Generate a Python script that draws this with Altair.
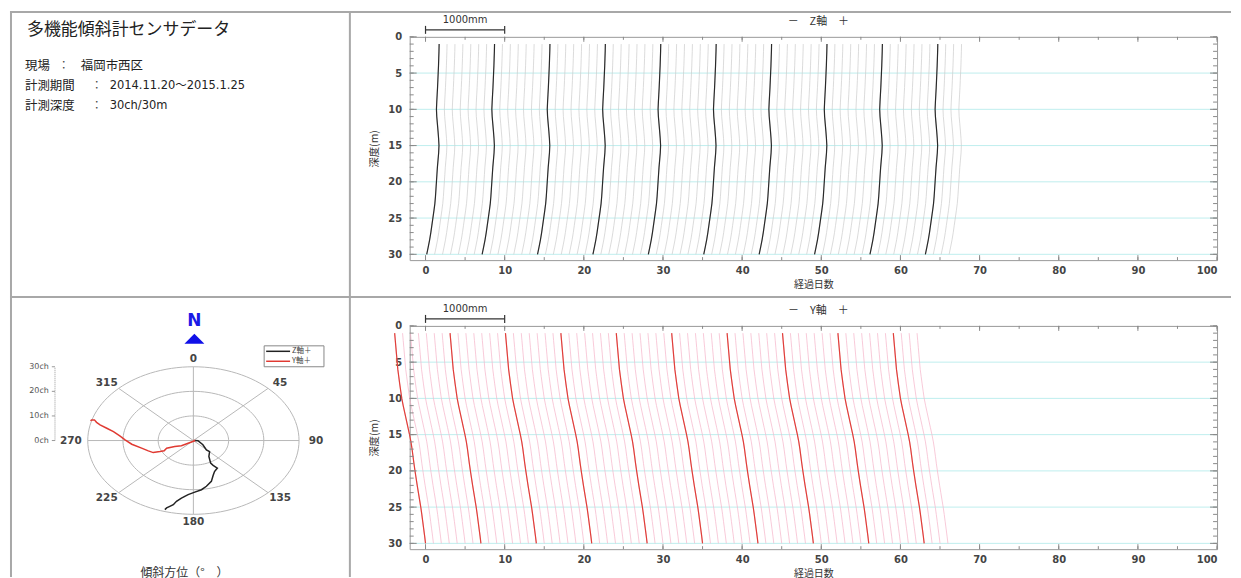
import altair as alt
import numpy as np
import pandas as pd

# ---------------- data ----------------
DEPTHS = list(range(1, 31))
Z_PROFILE = [1.72, 1.70, 1.67, 1.64, 1.60, 1.56, 1.52, 1.47, 1.42, 1.38,
             1.42, 1.50, 1.58, 1.65, 1.70, 1.66, 1.58, 1.50, 1.44, 1.38,
             1.32, 1.26, 1.18, 1.06, 0.93, 0.80, 0.67, 0.52, 0.34, 0.15]
Y_PROFILE = [-3.90, -3.82, -3.74, -3.66, -3.58, -3.50, -3.38, -3.26, -3.13, -3.00,
             -2.82, -2.62, -2.42, -2.22, -2.02, -1.84, -1.70, -1.58, -1.46, -1.33,
             -1.19, -1.05, -0.90, -0.75, -0.60, -0.47, -0.35, -0.23, -0.11, 0.00]
DAYS = list(range(0, 67))
WEEK_DAYS = [0, 7, 14, 21, 28, 35, 42, 49, 56, 63]
X_TICKS = [0, 10, 20, 30, 40, 50, 60, 70, 80, 90, 100]
X_MINOR = [0, 5, 10, 15, 20, 25, 30, 35, 40, 45, 50, 55, 60, 65, 70, 75, 80, 85, 90, 95, 100]
Y_TICKS = [0, 5, 10, 15, 20, 25, 30]
Y_MINOR = list(range(0, 31))
GRID_DEPTHS = [5, 10, 15, 20, 25, 30]
SCALE_BAR = [0, 10]
SCALE_BAR_LABEL = "1000mm"

INFO_TITLE = "多機能傾斜計センサデータ"
INFO_LABELS = ["現場", "計測期間", "計測深度"]
INFO_VALUES = ["福岡市西区", "2014.11.20〜2015.1.25", "30ch/30m"]

RING_R = [1, 2, 3]
SPOKE_ANGLES = [0, 45, 90, 135, 180, 225, 270, 315]
ANGLE_LABELS = ["0", "45", "90", "135", "180", "225", "270", "315"]
RED_X = [0.00, 0.06, -0.15, -0.34, -0.53, -0.76, -0.83, -0.95, -1.14, -1.28, -1.47,
         -1.75, -1.94, -2.09, -2.27, -2.46, -2.65, -2.75, -2.81, -2.89, -2.92]
RED_Y = [0.00, 0.00, -0.11, -0.21, -0.24, -0.31, -0.42, -0.45, -0.49, -0.42, -0.31,
         -0.15, 0.03, 0.19, 0.36, 0.50, 0.64, 0.74, 0.84, 0.84, 0.80]
BLACK_X = [0.05, 0.13, 0.27, 0.37, 0.46, 0.44, 0.49, 0.56, 0.68, 0.60, 0.56, 0.51,
           0.37, 0.23, 0.04, -0.15, -0.34, -0.48, -0.57, -0.67, -0.76, -0.81]
BLACK_Y = [0.00, -0.01, -0.17, -0.38, -0.45, -0.65, -0.92, -1.01, -1.12, -1.26, -1.42,
           -1.66, -1.86, -2.00, -2.10, -2.20, -2.34, -2.47, -2.61, -2.68, -2.74, -2.81]
CH_TICKS = [0, 10, 20, 30]
CH_LABELS = ["0ch", "10ch", "20ch", "30ch"]
LEGEND_LABELS = ["Z軸＋", "Y軸＋"]
POLAR_TITLE = "傾斜方位（°　）"

# ---------------- styles / layout ----------------
JP = "Noto Sans CJK JP"
NUM = "DejaVu Sans"
PW, PH, LW = 810, 224, 341
FRAME = "#a8a8a8"
ONE = pd.DataFrame({"k": [0]})


def text(t, x, y, size=10, font=JP, weight="normal", color="#333", align="left", angle=None):
    kw = dict(text=t, font=font, fontSize=size, fontWeight=weight, color=color,
              align=align, baseline="middle")
    if angle is not None:
        kw["angle"] = angle
    return alt.Chart(ONE).mark_text(**kw).encode(x=alt.value(x), y=alt.value(y))


def profile_panel(profile, light, dark, title, frames=False):
    xs = alt.Scale(domain=[-2, 100], nice=False, zero=False)
    ys = alt.Scale(domain=[0, 30.8], nice=False, zero=False, reverse=True)
    xaxis = alt.Axis(values=X_TICKS, title="経過日数", ticks=False, domain=False,
                     grid=False, labelFont=NUM, labelFontSize=10, labelFontWeight="bold",
                     labelColor="#444", labelPadding=5, titleFont=JP, titleFontSize=10,
                     titleFontWeight="normal", titleColor="#333", titlePadding=4)
    yaxis = alt.Axis(values=Y_TICKS, title="深度(m)", ticks=False, domain=False,
                     grid=False, labelFont=NUM, labelFontSize=10, labelFontWeight="bold",
                     labelColor="#444", labelPadding=8, titleFont=JP, titleFontSize=10.5,
                     titleFontWeight="normal", titleColor="#333", titlePadding=8)
    X = lambda f: alt.X(f, scale=xs, axis=xaxis)
    Y = lambda f: alt.Y(f, scale=ys, axis=yaxis)

    rows = [{"day": d, "depth": z, "x": d + v} for d in DAYS for z, v in zip(DEPTHS, profile)]
    df = pd.DataFrame(rows)
    wk = df[df["day"].isin(WEEK_DAYS)]

    light_lines = alt.Chart(df).mark_line(color=light, strokeWidth=0.7).encode(
        x=X("x:Q"), y=Y("depth:Q"), detail="day:N", order="depth:Q")

    grid = alt.Chart(pd.DataFrame({"depth": GRID_DEPTHS})).mark_rule(
        color="#bfeeee", strokeWidth=1).encode(
        y=Y("depth:Q"), x=alt.value(0), x2=alt.value(PW))

    dark_lines = alt.Chart(wk).mark_line(color=dark, strokeWidth=1.2).encode(
        x=X("x:Q"), y=Y("depth:Q"), detail="day:N", order="depth:Q")

    tk = "#8a8a8a"
    ymin = pd.DataFrame({"depth": Y_MINOR})
    ymaj = pd.DataFrame({"depth": Y_TICKS})
    xmin = pd.DataFrame({"x": X_MINOR})
    xmaj = pd.DataFrame({"x": X_TICKS})
    ticks = []
    for dfx, ln in ((ymin, 4), (ymaj, 7)):
        ticks.append(alt.Chart(dfx).mark_rule(color=tk, strokeWidth=1).encode(
            y=Y("depth:Q"), x=alt.value(0), x2=alt.value(ln)))
        ticks.append(alt.Chart(dfx).mark_rule(color=tk, strokeWidth=1).encode(
            y=Y("depth:Q"), x=alt.value(PW - ln), x2=alt.value(PW)))
    for dfx, ln in ((xmin, 3), (xmaj, 5)):
        ticks.append(alt.Chart(dfx).mark_rule(color=tk, strokeWidth=1).encode(
            x=X("x:Q"), y=alt.value(0), y2=alt.value(ln)))
        ticks.append(alt.Chart(dfx).mark_rule(color=tk, strokeWidth=1).encode(
            x=X("x:Q"), y=alt.value(PH - ln), y2=alt.value(PH)))

    bar = alt.Chart(pd.DataFrame({"x": [SCALE_BAR[0]], "x1": [SCALE_BAR[1]]})).mark_rule(
        color="#333", strokeWidth=1.2).encode(
        x=X("x:Q"), x2=alt.X2("x1:Q"), y=alt.value(-7))
    caps = alt.Chart(pd.DataFrame({"x": SCALE_BAR})).mark_rule(
        color="#333", strokeWidth=1.2).encode(
        x=X("x:Q"), y=alt.value(-11), y2=alt.value(-3))
    bar_lbl = alt.Chart(pd.DataFrame({"x": [sum(SCALE_BAR) / 2]})).mark_text(
        text=SCALE_BAR_LABEL, font=NUM, fontSize=10, color="#333", baseline="middle").encode(
        x=X("x:Q"), y=alt.value(-17))
    ttl = text(title, PW / 2 + 5, -15, size=11, color="#333", align="center")

    layers = [grid, light_lines, dark_lines] + ticks + [bar, caps, bar_lbl, ttl]
    if frames:
        layers.append(alt.Chart(ONE).mark_rule(color=FRAME, strokeWidth=2).encode(
            x=alt.value(-401), x2=alt.value(824), y=alt.value(-25)))
        layers.append(alt.Chart(ONE).mark_rule(color=FRAME, strokeWidth=2).encode(
            x=alt.value(-401), x2=alt.value(824), y=alt.value(261)))
    return alt.layer(*layers).properties(
        width=PW, height=PH, view=alt.ViewBackground(stroke="#999", strokeWidth=1))


# ---------------- info panel ----------------
info_layers = [
    alt.Chart(ONE).mark_rule(color=FRAME, strokeWidth=2).encode(
        x=alt.value(1), y=alt.value(-26), y2=alt.value(542)),
    alt.Chart(ONE).mark_rule(color=FRAME, strokeWidth=2).encode(
        x=alt.value(LW), y=alt.value(-26), y2=alt.value(542)),
    text(INFO_TITLE, 17, -7, size=17, color="#222"),
]
lab_x = [15, 15, 15]
colon_x = [54, 87, 87]
val_x = [71, 100, 100]
row_y = [29, 49, 69]
for i in range(3):
    info_layers.append(text(INFO_LABELS[i], lab_x[i], row_y[i], size=12.5, color="#222"))
    info_layers.append(text("：", colon_x[i], row_y[i], size=11, color="#444", align="center"))
    vfont = JP if i == 0 else NUM + ", " + JP
    vsize = 12.5 if i == 0 else 11.5
    info_layers.append(text(INFO_VALUES[i], val_x[i], row_y[i], size=vsize, font=vfont, color="#222"))
info = alt.layer(*info_layers).properties(
    width=LW, height=PH, view=alt.ViewBackground(stroke="transparent"))

# ---------------- polar panel ----------------
pxs = alt.Scale(domain=[-5.208, 4.444], nice=False, zero=False)
pys = alt.Scale(domain=[-4.418, 4.662], nice=False, zero=False)
PX = lambda f: alt.X(f, scale=pxs, axis=None)
PY = lambda f: alt.Y(f, scale=pys, axis=None)

ring_rows = []
for r in RING_R:
    for i, a in enumerate(range(0, 361, 3)):
        ring_rows.append({"r": r, "i": i, "x": r * np.sin(np.radians(a)),
                          "y": r * np.cos(np.radians(a))})
rings = alt.Chart(pd.DataFrame(ring_rows)).mark_line(color="#b8b8b8", strokeWidth=1).encode(
    x=PX("x:Q"), y=PY("y:Q"), detail="r:N", order="i:Q")

outer = max(RING_R)
sp = pd.DataFrame({"a": SPOKE_ANGLES})
sp["x0"] = 0.0
sp["y0"] = 0.0
sp["x1"] = outer * np.sin(np.radians(sp["a"]))
sp["y1"] = outer * np.cos(np.radians(sp["a"]))
spokes = alt.Chart(sp).mark_rule(color="#b8b8b8", strokeWidth=1).encode(
    x=PX("x0:Q"), y=PY("y0:Q"), x2="x1:Q", y2="y1:Q")

al = pd.DataFrame({"a": SPOKE_ANGLES, "label": ANGLE_LABELS})
al["x"] = 3.48 * np.sin(np.radians(al["a"]))
al["y"] = 3.32 * np.cos(np.radians(al["a"]))
angle_lbls = alt.Chart(al).mark_text(font=NUM, fontSize=10.5, fontWeight="bold",
                                     color="#444", baseline="middle").encode(
    x=PX("x:Q"), y=PY("y:Q"), text="label:N")

red = pd.DataFrame({"i": range(len(RED_X)), "x": RED_X, "y": RED_Y})
black = pd.DataFrame({"i": range(len(BLACK_X)), "x": BLACK_X, "y": BLACK_Y})
red_line = alt.Chart(red).mark_line(color="#e03a32", strokeWidth=1.5).encode(
    x=PX("x:Q"), y=PY("y:Q"), order="i:Q")
black_line = alt.Chart(black).mark_line(color="#222", strokeWidth=1.5).encode(
    x=PX("x:Q"), y=PY("y:Q"), order="i:Q")

ch = pd.DataFrame({"c": CH_TICKS, "label": CH_LABELS})
ch["y"] = ch["c"] / 10.0
ch["x0"] = -4.02
ch["x1"] = -3.93
ch_axis = alt.Chart(pd.DataFrame({"x": [-3.93], "y0": [min(CH_TICKS) / 10.0],
                                  "y1": [max(CH_TICKS) / 10.0]})).mark_rule(
    color="#999", strokeWidth=1, strokeDash=[1, 1]).encode(
    x=PX("x:Q"), y=PY("y0:Q"), y2="y1:Q")
ch_ticks = alt.Chart(ch).mark_rule(color="#999", strokeWidth=1).encode(
    x=PX("x0:Q"), x2="x1:Q", y=PY("y:Q"))
ch_lbls = alt.Chart(ch).mark_text(font=NUM, fontSize=8, color="#555", align="right",
                                  baseline="middle", dx=-3).encode(
    x=PX("x0:Q"), y=PY("y:Q"), text="label:N")

north = text("N", 185, -5, size=17, font=NUM, weight="bold", color="#1a1ae6", align="center")
tri = alt.Chart(ONE).mark_point(shape="M-1,0.5L1,0.5L0,-0.5Z", size=400, filled=True,
                                color="#1010e8", opacity=1).encode(
    x=alt.value(185), y=alt.value(13))

leg_box = alt.Chart(ONE).mark_rect(fill="white", stroke="#888", strokeWidth=1).encode(
    x=alt.value(255), x2=alt.value(315), y=alt.value(20), y2=alt.value(41))
leg_items = []
leg_cols = ["#222", "#e03a32"]
leg_y = [25.5, 35.5]
for i in range(2):
    leg_items.append(alt.Chart(ONE).mark_rule(color=leg_cols[i], strokeWidth=1.5).encode(
        x=alt.value(257), x2=alt.value(281), y=alt.value(leg_y[i])))
    leg_items.append(text(LEGEND_LABELS[i], 283, leg_y[i], size=7.5, color="#444"))

ptitle = text(POLAR_TITLE, 175, 248, size=12, color="#333", align="center")

polar = alt.layer(rings, spokes, angle_lbls, ch_axis, ch_ticks, ch_lbls, red_line,
                  black_line, north, tri, leg_box, *leg_items, ptitle).properties(
    width=LW, height=PH, view=alt.ViewBackground(stroke="transparent"))

# ---------------- assemble ----------------
zpanel = profile_panel(Z_PROFILE, "#cbcbcb", "#2a2a2a", "－　Z軸　＋", frames=True)
ypanel = profile_panel(Y_PROFILE, "#f5b3c8", "#e0403a", "－　Y軸　＋")

chart = alt.concat(info, zpanel, polar, ypanel, columns=2,
                   spacing={"row": 66, "column": 60}, bounds="flush",
                   padding=0).configure(background="white")

chart.save("out.html", embed_options={"renderer": "svg", "actions": False})
